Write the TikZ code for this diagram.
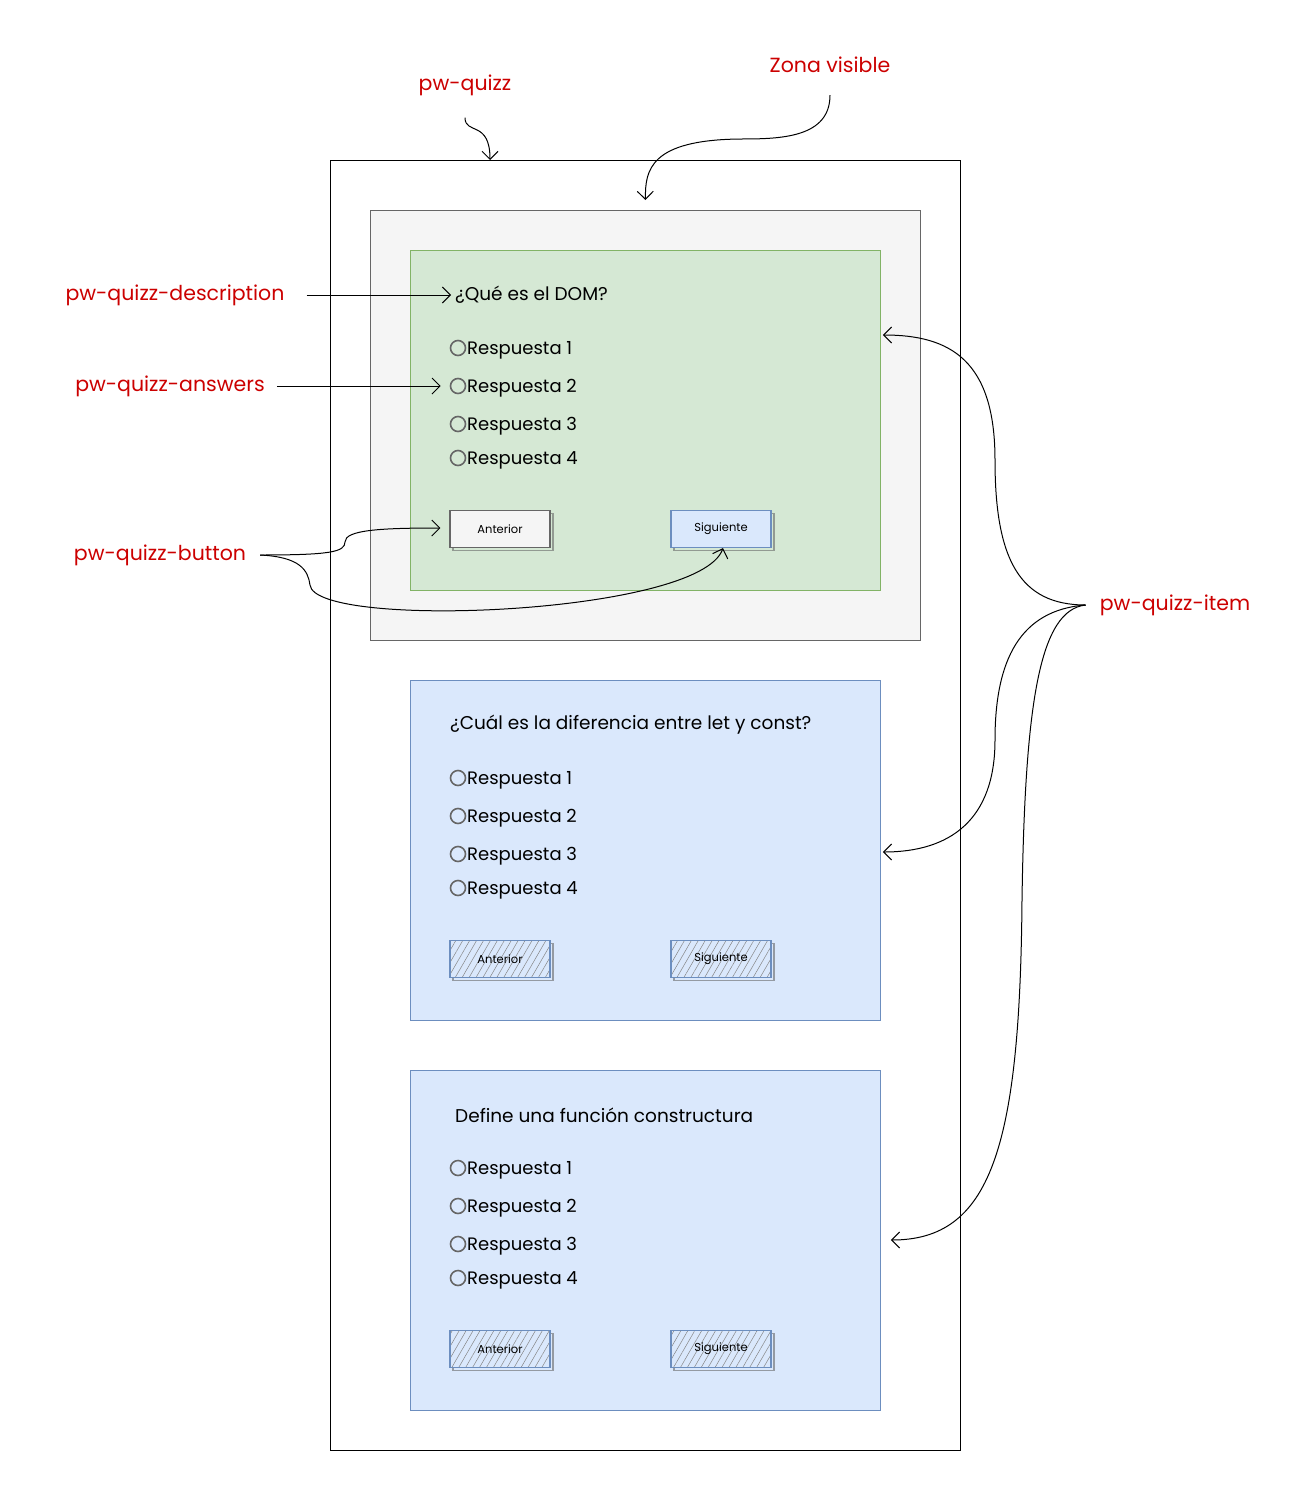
\documentclass[tikz,border=0pt]{standalone}
\usepackage{fontspec}
\setmainfont{Poppins}
\usetikzlibrary{arrows.meta,patterns.meta,calc,shadows}
\definecolor{lblred}{HTML}{CC0000}
\definecolor{greyfill}{HTML}{F5F5F5}
\definecolor{greyline}{HTML}{666666}
\definecolor{greenfill}{HTML}{D5E8D4}
\definecolor{greenline}{HTML}{82B366}
\definecolor{bluefill}{HTML}{DAE8FC}
\definecolor{blueline}{HTML}{6C8EBF}
\begin{document}
\begin{tikzpicture}[x=1pt,y=-1pt,
  lbl/.style={text=lblred, font=\fontsize{20.5}{24}\selectfont, inner sep=0pt},
  qtext/.style={anchor=west, font=\fontsize{18.5}{22}\selectfont, inner sep=0pt},
  anstext/.style={anchor=west, font=\fontsize{18}{21}\selectfont, inner sep=0pt},
  radio/.style={circle, draw=greyline, line width=1.6pt, minimum size=15pt, inner sep=0pt},
  box/.style={rectangle, anchor=north west, inner sep=0pt, line width=0.9pt},
  btn/.style={rectangle, minimum width=100pt, minimum height=37pt, inner sep=0pt, line width=1.1pt,
     font=\fontsize{11.5}{13}\selectfont,
     copy shadow={shadow xshift=3pt, shadow yshift=-3pt, draw=greyline, fill=none, opacity=0.6}},
  btngrey/.style={btn, fill=greyfill, draw=greyline},
  btnblue/.style={btn, fill=bluefill, draw=blueline},
  btnhatch/.style={btn, draw=blueline, preaction={fill=bluefill},
     pattern={Lines[angle=60,distance=6pt,line width=0.5pt]}, pattern color=greyline!80},
  conn/.style={draw=black, line width=1pt, -{Straight Barb[length=8pt,width=16pt]}}
]
\useasboundingbox[fill=white] (0,0) rectangle (1301,1502);

% containers
\node[box, draw=black, fill=white, minimum width=630pt, minimum height=1290pt] (quizz) at (330,160) {};
\node[box, draw=greyline, fill=greyfill, minimum width=550pt, minimum height=430pt] (zona) at (370,210) {};
\node[box, draw=greenline, fill=greenfill, minimum width=470pt, minimum height=340pt] (item1) at (410,250) {};
\node[box, draw=blueline, fill=bluefill, minimum width=470pt, minimum height=340pt] (item2) at (410,680) {};
\node[box, draw=blueline, fill=bluefill, minimum width=470pt, minimum height=340pt] (item3) at (410,1070) {};

% item 1
\node[qtext] (q1) at (455,295) {¿Qué es el DOM?};
\node[radio] (r11) at (458,348) {};
\node[radio] (r12) at (458,386) {};
\node[radio] (r13) at (458,424) {};
\node[radio] (r14) at (458,458) {};
\node[anstext] (a11) at (467,350) {Respuesta 1};
\node[anstext] (a12) at (467,388) {Respuesta 2};
\node[anstext] (a13) at (467,426) {Respuesta 3};
\node[anstext] (a14) at (467,460) {Respuesta 4};
\node[btngrey] (b1A) at (500,529) {Anterior};
\node[btnblue] (b1S) at (721,529) {Siguiente};

% item 2
\node[qtext] (q2) at (450,725) {¿Cuál es la diferencia entre let y const?};
\node[radio] (r21) at (458,778) {};
\node[radio] (r22) at (458,816) {};
\node[radio] (r23) at (458,854) {};
\node[radio] (r24) at (458,888) {};
\node[anstext] (a21) at (467,780) {Respuesta 1};
\node[anstext] (a22) at (467,818) {Respuesta 2};
\node[anstext] (a23) at (467,856) {Respuesta 3};
\node[anstext] (a24) at (467,890) {Respuesta 4};
\node[btnhatch] (b2A) at (500,959) {Anterior};
\node[btnhatch] (b2S) at (721,959) {Siguiente};

% item 3
\node[qtext] (q3) at (455,1115) {Define una función constructura};
\node[radio] (r31) at (458,1168) {};
\node[radio] (r32) at (458,1206) {};
\node[radio] (r33) at (458,1244) {};
\node[radio] (r34) at (458,1278) {};
\node[anstext] (a31) at (467,1170) {Respuesta 1};
\node[anstext] (a32) at (467,1208) {Respuesta 2};
\node[anstext] (a33) at (467,1246) {Respuesta 3};
\node[anstext] (a34) at (467,1280) {Respuesta 4};
\node[btnhatch] (b3A) at (500,1349) {Anterior};
\node[btnhatch] (b3S) at (721,1349) {Siguiente};

% labels
\node[lbl] (lquizz) at (465,85) {pw-quizz};
\node[lbl] (lzona) at (830,65) {Zona visible};
\node[lbl] (ldesc) at (175,295) {pw-quizz-description};
\node[lbl] (lans) at (170,386) {pw-quizz-answers};
\node[lbl] (lbtn) at (160,555) {pw-quizz-button};
\node[lbl] (litem) at (1175,605) {pw-quizz-item};

% connectors
\draw[conn] ($(lquizz.south)+(0,22)$) .. controls (465,135) and (490,120) .. ($(quizz.north west)+(160,0)$);
\draw[conn] ($(lzona.south)+(0,22)$) .. controls (830,138) and (780,139) .. (740,139)
   .. controls (650,140) and (645,170) .. ($(zona.north)+(0,-10)$);
\draw[conn] ($(ldesc.east)+(22,0)$) -- ($(q1.west)+(-4,0)$);
\draw[conn] ($(lans.east)+(12,0)$) -- ($(r12.west)+(-9,0)$);
\draw[conn] ($(lbtn.east)+(14,0)$) .. controls (330,555) and (345,552) .. (345,542)
   .. controls (345,530) and (380,528) .. ($(b1A.west)+(-9,-1)$);
\draw[conn] ($(lbtn.east)+(14,0)$) .. controls (300,557) and (308,570) .. (310,585)
   .. controls (315,630) and (700,615) .. ($(b1S.south)+(2,0)$);
\draw[conn] ($(litem.west)+(-14,0)$) .. controls (1020,605) and (995,560) .. (995,460)
   .. controls (995,360) and (950,335) .. ($(item1.north east)+(2,85)$);
\draw[conn] ($(litem.west)+(-14,0)$) .. controls (1020,610) and (995,660) .. (995,740)
   .. controls (995,820) and (950,852) .. ($(item2.north east)+(2,172)$);
\draw[conn] ($(litem.west)+(-14,0)$) .. controls (1040,610) and (1025,700) .. (1022,900)
   .. controls (1020,1150) and (990,1240) .. ($(item3.north east)+(10,170)$);
\end{tikzpicture}
\end{document}
